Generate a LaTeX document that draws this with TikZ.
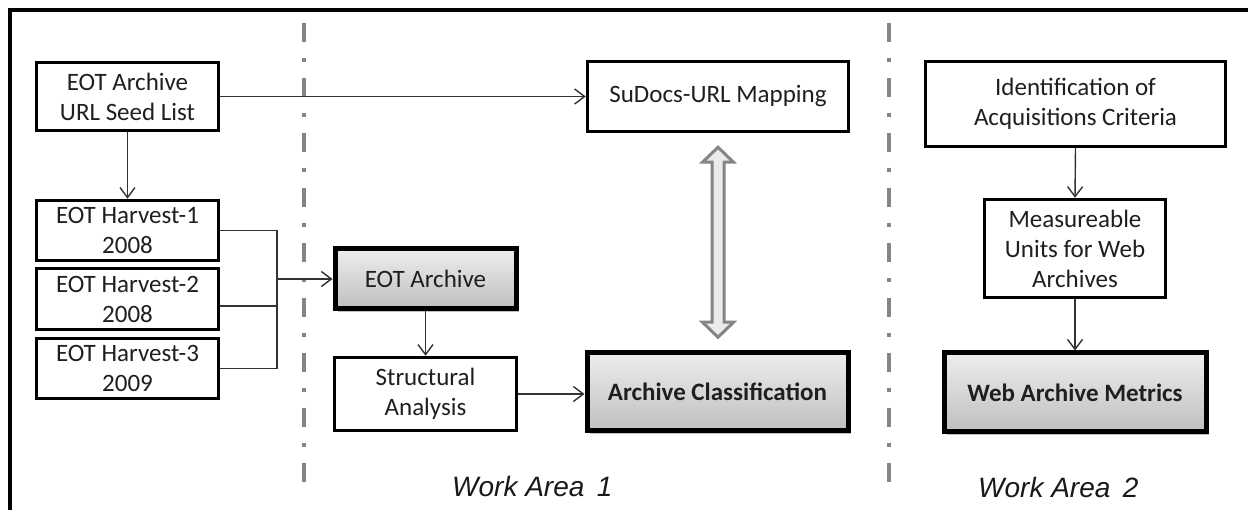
\documentclass[tikz,border=0pt]{standalone}
\usepackage{fontspec}
\setmainfont{Carlito}
\newfontfamily\wafont{Liberation Sans}
\usetikzlibrary{arrows.meta,shadows,calc}
\begin{document}
\begin{tikzpicture}[x=1pt,y=-1pt,
  box/.style={draw=black, line width=3.5pt, fill=white, inner sep=0pt, align=center,
    font=\fontsize{25}{30}\selectfont, text=black!88},
  graybox/.style={box, line width=5pt, top color=black!7, bottom color=black!25,
    drop shadow={shadow xshift=3pt, shadow yshift=-3pt, opacity=0.25, fill=black}},
  conn/.style={draw=black!80, line width=1.4pt, -{Straight Barb[length=10pt,width=15pt,line width=1.4pt]}},
  plain/.style={draw=black!80, line width=1.4pt},
  divider/.style={draw=black!48, line width=4pt, dash pattern=on 19pt off 16pt on 4pt off 16pt},
  darrow/.style={draw=black!48, line width=3pt, fill=black!8, line join=miter},
  area/.style={font=\wafont\itshape\fontsize{28}{32}\selectfont, text=black!90, inner sep=0pt, anchor=base west}
]
\useasboundingbox (0,0) rectangle (1248,510);
\fill[white] (0,0) rectangle (1248,510);
% frame
\draw[line width=4pt, black] (10,510) -- (10,10) -- (1248,10);
% dividers
\draw[divider] (304,23) -- (304,485);
\draw[divider] (889,23) -- (889,485);
% left column
\node[box, minimum width=182pt, minimum height=68pt] (seed) at (127.5,96.5) {EOT Archive\\URL Seed List};
\node[box, minimum width=182pt, minimum height=60pt] (h1) at (127.5,230.5) {EOT Harvest-1\\2008};
\node[box, minimum width=182pt, minimum height=61pt] (h2) at (127.5,299) {EOT Harvest-2\\2008};
\node[box, minimum width=182pt, minimum height=60pt] (h3) at (127.5,368.5) {EOT Harvest-3\\2009};
% work area 1
\node[graybox, minimum width=181pt, minimum height=60pt] (eota) at (425.5,279) {EOT Archive};
\node[box, minimum width=182pt, minimum height=73pt] (struct) at (425.5,394) {Structural\\Analysis};
\node[box, minimum width=261pt, minimum height=70pt] (sudocs) at (718,96.5) {SuDocs-URL Mapping};
\node[graybox, minimum width=261pt, minimum height=78pt, font=\fontsize{25}{30}\selectfont\bfseries] (aclass) at (717.5,392) {Archive Classification};
% work area 2
\node[box, minimum width=300pt, minimum height=85pt] (ident) at (1075.5,104) {Identification of\\Acquisitions Criteria};
\node[box, minimum width=181pt, minimum height=98pt] (meas) at (1075,248.5) {Measureable\\Units for Web\\Archives};
\node[graybox, minimum width=262pt, minimum height=79pt, font=\fontsize{25}{30}\selectfont\bfseries] (wam) at (1075,392.5) {Web Archive Metrics};
% labels
\node[area] (wa1) at (452,496) {Work Area\ \,1};
\node[area] (wa2) at (978,497) {Work Area\ \,2};
% connectors
\coordinate (j) at (277,281);
\draw[conn] (seed.east) -- (sudocs.west);
\draw[conn] (seed.south) -- (h1.north);
\draw[plain] (h1.east) -| (j |- h3.east) -- (h3.east);
\draw[plain] ($(h2.east)+(0,7)$) -- ($(j |- h2.east)+(0,7)$);
\draw[conn] (j |- eota.west) -- (eota.west);
\draw[conn] (eota.south) -- (struct.north);
\draw[conn] (struct.east) -- (struct.east -| aclass.west);
\draw[conn] (ident.south) -- (meas.north);
\draw[conn] (meas.south) -- (wam.north);
% double arrow
\draw[darrow] ($(sudocs.south)+(0,14)$) -- ++(15.5,15) -- ++(-9.5,0) -- ++(0,160) -- ++(9.5,0)
  -- ++(-15.5,15) -- ++(-15.5,-15) -- ++(9.5,0) -- ++(0,-160) -- ++(-9.5,0) -- cycle;
\end{tikzpicture}
\end{document}
